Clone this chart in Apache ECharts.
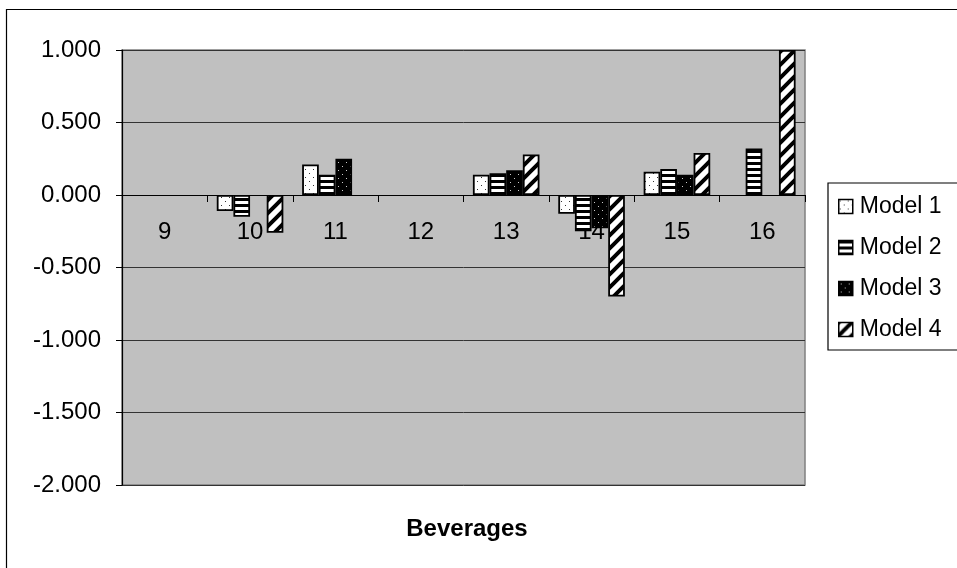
<!DOCTYPE html>
<html>
<head>
<meta charset="utf-8">
<script src="https://cdn.jsdelivr.net/npm/echarts@6/dist/echarts.min.js"></script>
<style>
html,body{margin:0;padding:0;background:#fff;}
#c{width:957px;height:568px;}
</style>
</head>
<body>
<div id="c"></div>
<script>
const categories = ['9', '10', '11', '12', '13', '14', '15', '16'];
const model1 = [null, -0.11, 0.21, null, 0.14, -0.13, 0.16, null];
const model2 = [null, -0.15, 0.14, null, 0.15, -0.25, 0.18, 0.32];
const model3 = [null, null, 0.25, null, 0.17, -0.23, 0.14, null];
const model4 = [null, -0.26, null, null, 0.28, -0.70, 0.29, 1.00];
const seriesNames = ['Model 1', 'Model 2', 'Model 3', 'Model 4'];
const xTitle = 'Beverages';
const yTicks = { min: -2, max: 1, interval: 0.5 };

function tile(w, h, draw) {
  const c = document.createElement('canvas');
  c.width = w; c.height = h;
  const g = c.getContext('2d');
  draw(g, w, h);
  return c;
}
const patDots = tile(8, 8, (g) => {
  g.fillStyle = '#fff'; g.fillRect(0, 0, 8, 8);
  g.fillStyle = '#333'; g.fillRect(1, 1, 1, 1); g.fillRect(5, 5, 1, 1);
});
const patHoriz = tile(6, 6, (g) => {
  g.fillStyle = '#fff'; g.fillRect(0, 0, 6, 6);
  g.fillStyle = '#000'; g.fillRect(0, 0, 6, 3);
});
const patDark = tile(8, 8, (g) => {
  g.fillStyle = '#000'; g.fillRect(0, 0, 8, 8);
  g.fillStyle = '#ccc'; g.fillRect(2, 2, 1, 1); g.fillRect(6, 6, 1, 1);
});
const patDiag = tile(13, 13, (g) => {
  g.fillStyle = '#fff'; g.fillRect(0, 0, 13, 13);
  g.strokeStyle = '#000'; g.lineWidth = 4;
  g.beginPath();
  g.moveTo(-13, 13); g.lineTo(13, -13);
  g.moveTo(0, 13); g.lineTo(13, 0);
  g.moveTo(0, 26); g.lineTo(26, 0);
  g.stroke();
});
const patterns = [patDots, patHoriz, patDark, patDiag];
const datas = [model1, model2, model3, model4];

const FONT = 'Liberation Sans, Arial, sans-serif';
const GRID_H = 435;
// move the category axis up so it sits on the value axis' zero line
const zeroOffset = -GRID_H * (0 - yTicks.min) / (yTicks.max - yTicks.min);

const chart = echarts.init(document.getElementById('c'));
chart.setOption({
  animation: false,
  backgroundColor: '#fff',
  textStyle: { fontFamily: FONT, color: '#000' },
  graphic: [{
    type: 'rect', left: 4, top: 7, silent: true, z: -10,
    shape: { width: 1000, height: 600 },
    style: { fill: 'none', stroke: '#000', lineWidth: 1.2 }
  }, {
    type: 'text', x: 467, y: 529, silent: true,
    style: { text: xTitle, fontSize: 24, fontWeight: 'bold', fontFamily: FONT, fill: '#000',
      align: 'center', verticalAlign: 'middle' }
  }],
  grid: {
    left: 122, top: 50, width: 683, height: GRID_H,
    outerBoundsMode: 'none', containLabel: false,
    show: true, backgroundColor: '#C0C0C0', borderColor: '#808080', borderWidth: 1.5
  },
  legend: {
    orient: 'vertical', left: 828, top: 183,
    backgroundColor: '#fff', borderColor: '#000', borderWidth: 1.2,
    padding: [12, 24, 9, 10],
    itemWidth: 14, itemHeight: 14, itemGap: 18,
    icon: 'rect',
    itemStyle: { borderColor: '#000', borderWidth: 1.5 },
    textStyle: { fontSize: 23, color: '#000', fontFamily: FONT, padding: [0, 0, 0, 2] },
    data: seriesNames
  },
  xAxis: {
    type: 'category', data: categories, position: 'bottom', offset: zeroOffset,
    axisLine: { onZero: false, lineStyle: { color: '#000', width: 1.2 } },
    axisTick: { show: true, length: 7, lineStyle: { color: '#000' } },
    axisLabel: { fontSize: 24, color: '#000', margin: 25, fontFamily: FONT },
    splitLine: { show: false }
  },
  yAxis: {
    type: 'value', min: yTicks.min, max: yTicks.max, interval: yTicks.interval,
    axisLine: { show: true, onZero: false, lineStyle: { color: '#000', width: 1.2 } },
    axisTick: { show: true, length: 6, lineStyle: { color: '#000' } },
    axisLabel: { fontSize: 24, color: '#000', margin: 21, fontFamily: FONT,
      formatter: (v) => v.toFixed(3) },
    splitLine: { show: true, lineStyle: { color: '#333', width: 1 } }
  },
  series: seriesNames.map((n, i) => ({
    name: n, type: 'bar', data: datas[i],
    barGap: '0%', barCategoryGap: '22%',
    itemStyle: { color: { image: patterns[i], repeat: 'repeat' }, borderColor: '#000', borderWidth: 1.8 }
  }))
});
</script>
</body>
</html>
